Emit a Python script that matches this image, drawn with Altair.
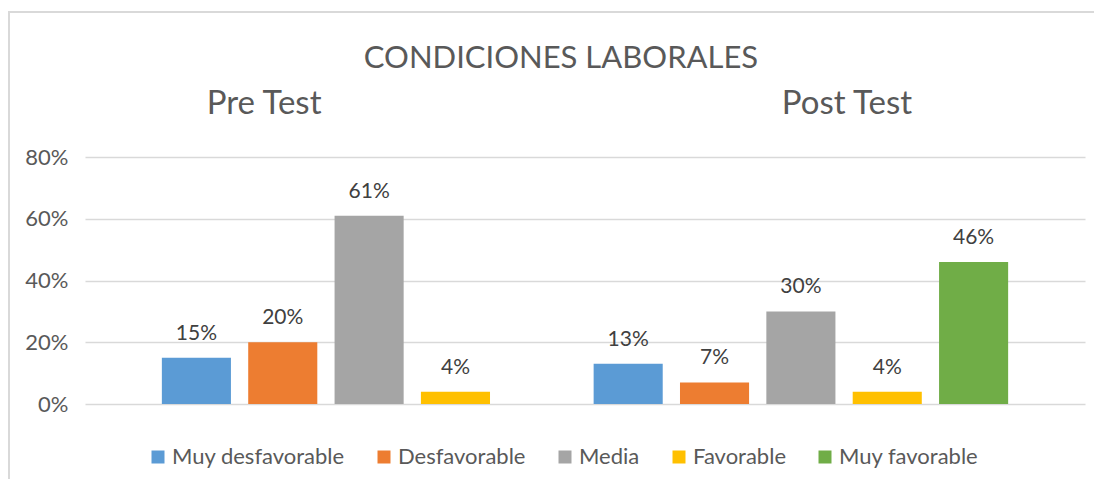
import altair as alt
import pandas as pd

tests = ["Pre Test", "Post Test"]
categories = ["Muy desfavorable", "Desfavorable", "Media", "Favorable", "Muy favorable"]
colors = ["#5B9BD5", "#ED7D31", "#A5A5A5", "#FFC000", "#70AD47"]
pre_values = [0.15, 0.20, 0.61, 0.04, None]
post_values = [0.13, 0.07, 0.30, 0.04, 0.46]
y_ticks = [0, 0.2, 0.4, 0.6, 0.8]

rows = []
for t, vals in zip(tests, [pre_values, post_values]):
    for c, v in zip(categories, vals):
        if v is not None:
            rows.append({"Test": t, "Categoria": c, "Valor": v})
df = pd.DataFrame(rows)
hdr = pd.DataFrame({"Test": tests})
one = pd.DataFrame({"k": [0]})

FONT = "Lato"
TXT = "#595959"
FRAME = "#D9D9D9"

x_enc = alt.X("Test:N", sort=tests,
              scale=alt.Scale(domain=tests, paddingInner=0, paddingOuter=0.158),
              axis=None)
xoff_enc = alt.XOffset("Categoria:N", sort=categories,
                       scale=alt.Scale(domain=categories, paddingInner=0.2, paddingOuter=0.1))
y_enc = alt.Y("Valor:Q", scale=alt.Scale(domain=[0, 0.8]),
              axis=alt.Axis(format=".0%", values=y_ticks, title=None, domain=False,
                            ticks=False, labelFontSize=22, labelColor=TXT,
                            labelPadding=17, labelFont=FONT,
                            gridColor="#D9D9D9", gridWidth=1.5))

bars = alt.Chart(df).mark_bar().encode(
    x=x_enc, xOffset=xoff_enc, y=y_enc,
    color=alt.Color("Categoria:N", sort=categories,
                    scale=alt.Scale(domain=categories, range=colors),
                    legend=alt.Legend(title=None, orient="none", legendX=62, legendY=289,
                                      direction="horizontal", symbolType="square",
                                      symbolSize=169, symbolStrokeWidth=0,
                                      labelFontSize=22, labelColor=TXT, labelFont=FONT,
                                      columnPadding=28, labelOffset=3, labelLimit=0)),
)

labels = alt.Chart(df).mark_text(dy=-18, baseline="alphabetic", fontSize=21,
                                  color="#404040", font=FONT).encode(
    x=x_enc, xOffset=xoff_enc, y=y_enc,
    text=alt.Text("Valor:Q", format=".0%"),
)

pre_hdr = alt.Chart(hdr).transform_filter(alt.datum.Test == "Pre Test").mark_text(
    dx=-105, baseline="alphabetic", fontSize=33, color=TXT, font=FONT).encode(
    x=x_enc, y=alt.value(-43), text="Test:N")
post_hdr = alt.Chart(hdr).transform_filter(alt.datum.Test == "Post Test").mark_text(
    dx=46, baseline="alphabetic", fontSize=33, color=TXT, font=FONT).encode(
    x=x_enc, y=alt.value(-43), text="Test:N")

frame_left = alt.Chart(one).mark_rule(color=FRAME, strokeWidth=2).encode(
    x=alt.value(-76), y=alt.value(-146), y2=alt.value(330))
frame_top = alt.Chart(one).mark_rule(color=FRAME, strokeWidth=2).encode(
    x=alt.value(-77), x2=alt.value(1017), y=alt.value(-145))

chart = alt.layer(frame_left, frame_top, bars, labels, pre_hdr, post_hdr).properties(
    width=1000, height=247,
    title=alt.TitleParams("CONDICIONES LABORALES", fontSize=31, font=FONT,
                          fontWeight="normal", color=TXT, anchor="middle",
                          frame="group", dx=-24, offset=-89, baseline="alphabetic"),
    autosize=alt.AutoSizeParams(type="none"),
    padding={"left": 77, "top": 149, "right": 9, "bottom": 75},
).configure(font=FONT).configure_view(strokeOpacity=0, strokeWidth=0)

chart.save("out.html", embed_options={"renderer": "svg", "actions": False})
